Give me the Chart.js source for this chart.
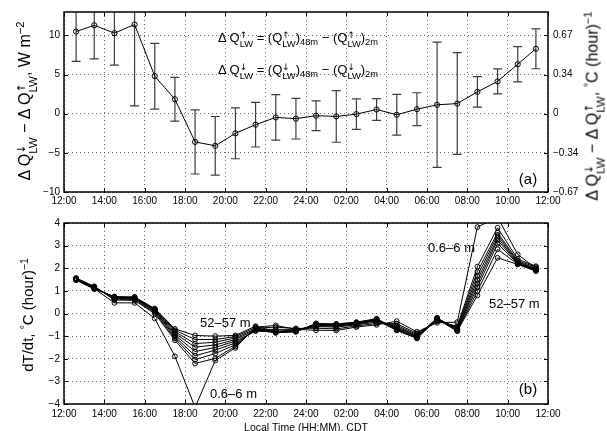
<!DOCTYPE html>
<html lang="en">
<head>
  <meta charset="UTF-8" />
  <title>Longwave flux divergence and heating rates</title>
  <style>
    html, body { margin: 0; padding: 0; background: #fff; overflow: hidden; }
    body { font-family: 'Liberation Sans', Arial, sans-serif; color: #000; }
    #wrap { position: relative; width: 607px; height: 431px; overflow: hidden; }
    canvas { position: absolute; left: 0; }
    #topChart { top: 0; }
    #bottomChart { top: 212px; }
    .lbl { position: absolute; white-space: nowrap; line-height: 1; }
    .rot { transform: translate(-50%, -50%) rotate(-90deg); }
    .mid { transform: translate(0, -50%); }
    .ctr { transform: translate(-50%, -50%); }
    .ss { display: inline-flex; flex-direction: column; align-items: flex-start;
          vertical-align: 0.42em; font-size: 0.72em; line-height: 1; }
    .ss .ar { font-family: 'DejaVu Sans', sans-serif; font-size: 0.95em; }
    .sup { font-size: 0.7em; vertical-align: 0.55em; }
    .sub { font-size: 0.72em; vertical-align: -0.3em; }
  </style>
</head>
<body>
<div id="wrap">
  <canvas id="topChart" width="607" height="212"></canvas>
  <canvas id="bottomChart" width="607" height="222"></canvas>

  <div class="lbl rot" style="left:27px; top:101px; font-size:16px;">Δ Q<span class="ss"><span class="ar">↓</span><span>LW</span></span> − Δ Q<span class="ss"><span class="ar">↑</span><span>LW</span></span>, W m<span class="sup">−2</span></div>
  <div class="lbl rot" style="left:595px; top:106px; font-size:16px;">Δ Q<span class="ss"><span class="ar">↓</span><span>LW</span></span> − Δ Q<span class="ss"><span class="ar">↑</span><span>LW</span></span>, <span class="sup">°</span>C (hour)<span class="sup">−1</span></div>
  <div class="lbl rot" style="left:27px; top:315px; font-size:15px;">dT/dt, <span class="sup">°</span>C (hour)<span class="sup">−1</span></div>

  <div class="lbl mid" style="left:218px; top:40px; font-size:13px;">Δ Q<span class="ss"><span class="ar">↑</span><span>LW</span></span> = (Q<span class="ss"><span class="ar">↑</span><span>LW</span></span>)<span class="sub">48m</span> − (Q<span class="ss"><span class="ar">↑</span><span>LW</span></span>)<span class="sub">2m</span></div>
  <div class="lbl mid" style="left:218px; top:72px; font-size:13px;">Δ Q<span class="ss"><span class="ar">↓</span><span>LW</span></span> = (Q<span class="ss"><span class="ar">↓</span><span>LW</span></span>)<span class="sub">48m</span> − (Q<span class="ss"><span class="ar">↓</span><span>LW</span></span>)<span class="sub">2m</span></div>

  <div class="lbl ctr" style="left:528px; top:178px; font-size:15px;">(a)</div>
  <div class="lbl ctr" style="left:528px; top:388px; font-size:15px;">(b)</div>

  <div class="lbl mid" style="left:210px; top:393px; font-size:13px;">0.6–6 m</div>
  <div class="lbl mid" style="left:428px; top:247px; font-size:13px;">0.6–6 m</div>
  <div class="lbl mid" style="left:200px; top:322px; font-size:13px;">52–57 m</div>
  <div class="lbl mid" style="left:489px; top:303px; font-size:13px;">52–57 m</div>
</div>

<script src="https://cdn.jsdelivr.net/npm/chart.js"></script>
<script>
  // hours after 12:00 local time (CDT)
  const hours = [0.6, 1.5, 2.5, 3.5, 4.5, 5.5, 6.5, 7.5, 8.5, 9.5, 10.5, 11.5,
                 12.5, 13.5, 14.5, 15.5, 16.5, 17.5, 18.5, 19.5, 20.5, 21.5, 22.5, 23.4];

  const xTickHours = [0, 2, 4, 6, 8, 10, 12, 14, 16, 18, 20, 22, 24];
  const xTickLabels = ['12:00', '14:00', '16:00', '18:00', '20:00', '22:00', '24:00',
                       '02:00', '04:00', '06:00', '08:00', '10:00', '12:00'];

  // panel (a): flux difference, W m-2
  const fluxMean = [10.5, 11.3, 10.3, 11.4, 4.8, 1.85, -3.6, -4.1, -2.5, -1.4, -0.47, -0.63,
                    -0.25, -0.34, -0.05, 0.54, -0.13, 0.58, 1.14, 1.3, 2.8, 4.13, 6.33, 8.3];
  const fluxErr = [3.8, 4.3, 4.1, 10.4, 4.2, 2.8, 4.1, 3.75, 3.25, 2.85, 2.9, 2.6,
                   1.9, 3.3, 1.95, 1.4, 2.6, 2.1, 8.0, 6.5, 1.95, 1.6, 2.25, 2.55];
  const fluxTicks = [-10, -5, 0, 5, 10];
  const fluxTickLabels = ['−10', '−5', '0', '5', '10'];
  const rateTickLabelsRight = ['−0.67', '−0.34', '0', '0.34', '0.67'];

  // panel (b): dT/dt per layer, deg C per hour (lowest layer first)
  const layer1 = [1.55, 1.1, 0.47, 0.47, -0.22, -1.89, -4.15, -2.08, -1.52, -0.6, -0.53, -0.7,
                  -0.74, -0.75, -0.6, -0.5, -0.34, -0.81, -0.41, -0.38, 3.82, 4.25, 2.61, 2.0];
  const layer2 = [1.57, 1.2, 0.6, 0.58, 0.0, -1.18, -2.21, -1.98, -1.45, -0.65, -0.6, -0.66,
                  -0.65, -0.68, -0.55, -0.44, -0.45, -0.88, -0.35, -0.56, 2.07, 3.79, 2.4, 2.09];
  const layer3 = [1.55, 1.18, 0.63, 0.62, 0.05, -1.1, -2.04, -1.77, -1.38, -0.7, -0.7, -0.7,
                  -0.58, -0.6, -0.5, -0.38, -0.52, -0.93, -0.3, -0.6, 1.85, 3.57, 2.33, 2.05];
  const layer4 = [1.53, 1.16, 0.66, 0.65, 0.1, -1.02, -1.87, -1.62, -1.3, -0.75, -0.78, -0.74,
                  -0.52, -0.55, -0.46, -0.33, -0.58, -0.97, -0.25, -0.64, 1.66, 3.47, 2.28, 2.0];
  const layer5 = [1.52, 1.15, 0.68, 0.67, 0.13, -0.95, -1.68, -1.5, -1.22, -0.78, -0.82, -0.77,
                  -0.48, -0.5, -0.43, -0.28, -0.63, -1.0, -0.22, -0.67, 1.48, 3.35, 2.25, 1.97];
  const layer6 = [1.5, 1.13, 0.7, 0.69, 0.16, -0.88, -1.49, -1.39, -1.15, -0.72, -0.85, -0.8,
                  -0.45, -0.47, -0.4, -0.25, -0.67, -1.03, -0.2, -0.7, 1.32, 3.24, 2.22, 1.94];
  const layer7 = [1.5, 1.12, 0.72, 0.7, 0.18, -0.81, -1.33, -1.27, -1.08, -0.68, -0.85, -0.81,
                  -0.44, -0.46, -0.38, -0.23, -0.7, -1.06, -0.19, -0.73, 1.16, 3.09, 2.2, 1.92];
  const layer8 = [1.48, 1.1, 0.73, 0.72, 0.2, -0.74, -1.15, -1.15, -1.02, -0.62, -0.83, -0.78,
                  -0.5, -0.5, -0.42, -0.27, -0.73, -1.08, -0.22, -0.76, 0.98, 2.84, 2.18, 1.9];
  const layer9 = [1.47, 1.08, 0.75, 0.73, 0.22, -0.68, -0.97, -1.0, -0.97, -0.56, -0.8, -0.75,
                  -0.56, -0.55, -0.46, -0.3, -0.75, -1.1, -0.26, -0.78, 0.8, 2.46, 2.17, 1.87];
  const layers = [layer1, layer2, layer3, layer4, layer5, layer6, layer7, layer8, layer9];
  const layerNames = ['0.6–6 m', 'layer 2', 'layer 3', 'layer 4', 'layer 5',
                      'layer 6', 'layer 7', 'layer 8', '52–57 m'];
  const rateTicks = [-4, -3, -2, -1, 0, 1, 2, 3, 4];
  const rateTickLabels = ['−4', '−3', '−2', '−1', '0', '1', '2', '3', '4'];

  Chart.defaults.font.family = "'Liberation Sans', Arial, sans-serif";
  Chart.defaults.font.size = 10;
  Chart.defaults.color = '#000';

  // box with inward tick marks, matlab style
  const framePlugin = {
    id: 'frame',
    afterDraw(chart) {
      const {ctx, chartArea: a, scales} = chart;
      ctx.save();
      ctx.strokeStyle = '#000';
      ctx.lineWidth = 1;
      ctx.beginPath();
      scales.x.ticks.forEach(t => {
        const px = Math.round(scales.x.getPixelForValue(t.value)) + 0.5;
        ctx.moveTo(px, a.bottom); ctx.lineTo(px, a.bottom - 4);
        ctx.moveTo(px, a.top); ctx.lineTo(px, a.top + 4);
      });
      scales.y.ticks.forEach(t => {
        const py = Math.round(scales.y.getPixelForValue(t.value)) + 0.5;
        ctx.moveTo(a.left, py); ctx.lineTo(a.left + 4, py);
        ctx.moveTo(a.right, py); ctx.lineTo(a.right - 4, py);
      });
      ctx.stroke();
      ctx.lineWidth = 1.5;
      ctx.strokeRect(a.left, a.top, a.right - a.left, a.bottom - a.top);
      ctx.restore();
    }
  };

  const errorBarPlugin = {
    id: 'errorBars',
    beforeDatasetsDraw(chart) {
      const {ctx, chartArea: a, scales: {x, y}} = chart;
      ctx.save();
      ctx.beginPath();
      ctx.rect(a.left, a.top, a.right - a.left, a.bottom - a.top);
      ctx.clip();
      ctx.strokeStyle = '#3c3c3c';
      ctx.lineWidth = 1.2;
      ctx.beginPath();
      hours.forEach((h, i) => {
        const px = x.getPixelForValue(h);
        const lo = y.getPixelForValue(fluxMean[i] - fluxErr[i]);
        const hi = y.getPixelForValue(fluxMean[i] + fluxErr[i]);
        ctx.moveTo(px, lo); ctx.lineTo(px, hi);
        ctx.moveTo(px - 4.5, lo); ctx.lineTo(px + 4.5, lo);
        ctx.moveTo(px - 4.5, hi); ctx.lineTo(px + 4.5, hi);
      });
      ctx.stroke();
      ctx.restore();
    }
  };

  function xAxis(extra) {
    return Object.assign({
      type: 'linear',
      min: 0,
      max: 24,
      afterBuildTicks: s => { s.ticks = xTickHours.map(v => ({value: v})); },
      ticks: { callback: (v, i) => xTickLabels[i], padding: 3, maxRotation: 0, autoSkip: false },
      grid: { color: '#666', lineWidth: 1, drawTicks: false },
      border: { display: false, dash: [1, 3] }
    }, extra);
  }

  const topChart = new Chart(document.getElementById('topChart'), {
    type: 'line',
    data: {
      datasets: [{
        label: 'ΔQ↓LW − ΔQ↑LW',
        data: hours.map((h, i) => ({x: h, y: fluxMean[i]})),
        borderColor: '#000',
        borderWidth: 1,
        pointRadius: 2.6,
        pointBorderWidth: 1,
        pointBorderColor: '#000',
        pointBackgroundColor: 'rgba(0,0,0,0)',
        tension: 0
      }]
    },
    options: {
      responsive: false,
      animation: false,
      layout: { padding: { top: 12, left: 0, right: 0, bottom: 0 } },
      plugins: { legend: { display: false }, tooltip: { enabled: false } },
      scales: {
        x: xAxis({ afterFit: s => { s.height = 20; } }),
        y: {
          min: -10,
          max: 13,
          afterBuildTicks: s => { s.ticks = fluxTicks.map(v => ({value: v})); },
          afterFit: s => { s.width = 64; },
          ticks: { callback: (v, i) => fluxTickLabels[i], padding: 4 },
          grid: { color: '#666', lineWidth: 1, drawTicks: false },
          border: { display: false, dash: [1, 3] }
        },
        y2: {
          position: 'right',
          min: -10,
          max: 13,
          afterBuildTicks: s => { s.ticks = fluxTicks.map(v => ({value: v})); },
          afterFit: s => { s.width = 59; },
          ticks: { callback: (v, i) => rateTickLabelsRight[i], padding: 5 },
          grid: { drawOnChartArea: false, drawTicks: false },
          border: { display: false }
        }
      }
    },
    plugins: [errorBarPlugin, framePlugin]
  });

  const bottomChart = new Chart(document.getElementById('bottomChart'), {
    type: 'line',
    data: {
      datasets: layers.map((vals, k) => ({
        label: layerNames[k],
        data: hours.map((h, i) => ({x: h, y: vals[i]})),
        borderColor: '#000',
        borderWidth: 1,
        pointRadius: 2.4,
        pointBorderWidth: 1,
        pointBorderColor: '#000',
        pointBackgroundColor: 'rgba(0,0,0,0)',
        tension: 0
      }))
    },
    options: {
      responsive: false,
      animation: false,
      layout: { padding: { top: 11, left: 0, right: 59, bottom: 0 } },
      plugins: { legend: { display: false }, tooltip: { enabled: false } },
      scales: {
        x: xAxis({
          afterFit: s => { s.height = 30; },
          ticks: { callback: (v, i) => xTickLabels[i], padding: 4, maxRotation: 0, autoSkip: false },
          title: { display: true, text: 'Local Time (HH:MM), CDT', font: { size: 10.5 }, padding: 0 }
        }),
        y: {
          min: -4,
          max: 4,
          afterBuildTicks: s => { s.ticks = rateTicks.map(v => ({value: v})); },
          afterFit: s => { s.width = 64; },
          ticks: { callback: (v, i) => rateTickLabels[i], padding: 4 },
          grid: { color: '#666', lineWidth: 1, drawTicks: false },
          border: { display: false, dash: [1, 3] }
        }
      }
    },
    plugins: [framePlugin]
  });
</script>
</body>
</html>
